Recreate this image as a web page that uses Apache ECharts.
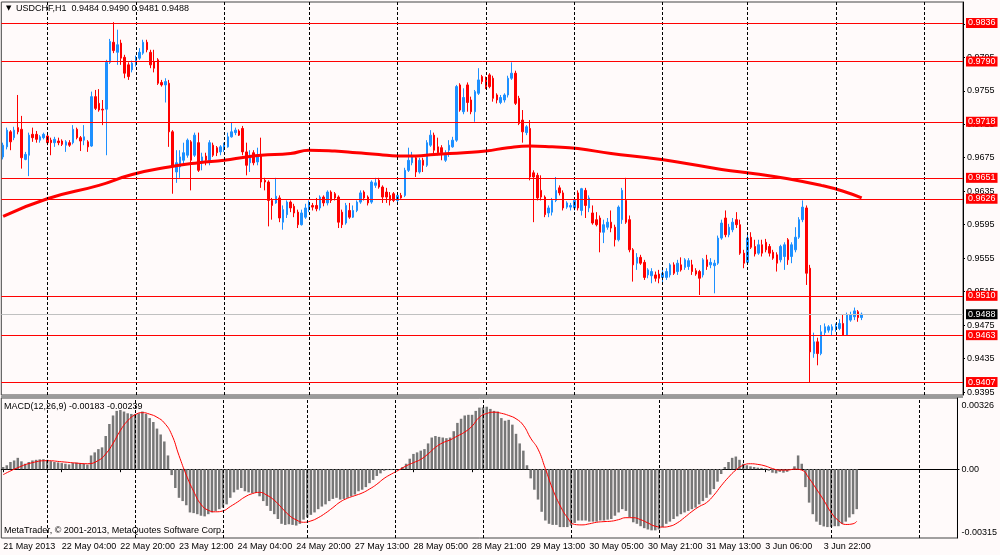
<!DOCTYPE html>
<html>
<head>
<meta charset="utf-8">
<title>USDCHF,H1</title>
<script src="https://cdn.jsdelivr.net/npm/echarts@6/dist/echarts.min.js"></script>
<style>
  html, body { margin:0; padding:0; background:#fffafa; }
  #chart { width:1000px; height:555px; }
</style>
</head>
<body>
<div id="chart"></div>
<script>
// hourly bars, 21 May 2013 12:00 .. 4 Jun 2013 07:00 — [open, high, low, close]
const ohlc = [
  [0.9676,0.9693,0.9673,0.9690],[0.9688,0.9711,0.9685,0.9708],[0.9706,0.9708,0.9684,0.9694],[0.9699,0.9712,0.9696,0.9708],
  [0.9711,0.9750,0.9703,0.9706],[0.9709,0.9725,0.9662,0.9675],[0.9673,0.9682,0.9672,0.9679],[0.9678,0.9705,0.9653,0.9702],
  [0.9703,0.9711,0.9694,0.9699],[0.9703,0.9707,0.9693,0.9697],[0.9696,0.9702,0.9693,0.9700],[0.9699,0.9705,0.9697,0.9703],
  [0.9701,0.9705,0.9690,0.9693],[0.9696,0.9699,0.9678,0.9693],[0.9693,0.9700,0.9688,0.9697],[0.9695,0.9699,0.9690,0.9693],
  [0.9695,0.9697,0.9689,0.9691],[0.9690,0.9696,0.9682,0.9694],[0.9693,0.9696,0.9688,0.9690],[0.9693,0.9714,0.9691,0.9709],
  [0.9709,0.9711,0.9697,0.9699],[0.9699,0.9701,0.9683,0.9695],[0.9696,0.9714,0.9690,0.9700],[0.9694,0.9696,0.9682,0.9688],
  [0.9689,0.9754,0.9688,0.9748],[0.9748,0.9756,0.9732,0.9734],[0.9740,0.9757,0.9730,0.9732],[0.9733,0.9744,0.9714,0.9732],
  [0.9733,0.9792,0.9678,0.9789],[0.9789,0.9817,0.9787,0.9814],[0.9813,0.9837,0.9800,0.9803],[0.9801,0.9828,0.9786,0.9810],
  [0.9812,0.9816,0.9786,0.9794],[0.9795,0.9798,0.9770,0.9776],[0.9786,0.9789,0.9768,0.9772],[0.9780,0.9791,0.9777,0.9788],
  [0.9786,0.9797,0.9784,0.9794],[0.9794,0.9806,0.9792,0.9801],[0.9800,0.9816,0.9798,0.9813],[0.9813,0.9816,0.9801,0.9804],
  [0.9801,0.9804,0.9782,0.9786],[0.9790,0.9804,0.9777,0.9782],[0.9792,0.9794,0.9762,0.9764],[0.9765,0.9768,0.9760,0.9762],
  [0.9762,0.9770,0.9741,0.9766],[0.9764,0.9768,0.9688,0.9706],[0.9706,0.9708,0.9632,0.9666],[0.9658,0.9684,0.9645,0.9669],
  [0.9664,0.9684,0.9651,0.9676],[0.9672,0.9693,0.9666,0.9681],[0.9678,0.9698,0.9675,0.9696],[0.9694,0.9696,0.9636,0.9672],
  [0.9678,0.9705,0.9676,0.9702],[0.9693,0.9705,0.9658,0.9660],[0.9670,0.9681,0.9660,0.9676],[0.9677,0.9681,0.9666,0.9672],
  [0.9670,0.9696,0.9666,0.9693],[0.9690,0.9693,0.9676,0.9678],[0.9687,0.9689,0.9677,0.9681],[0.9682,0.9690,0.9678,0.9688],
  [0.9687,0.9693,0.9682,0.9690],[0.9688,0.9705,0.9687,0.9700],[0.9700,0.9717,0.9699,0.9706],[0.9705,0.9711,0.9702,0.9708],
  [0.9707,0.9709,0.9701,0.9702],[0.9710,0.9713,0.9678,0.9682],[0.9682,0.9693,0.9654,0.9666],[0.9669,0.9684,0.9658,0.9678],
  [0.9681,0.9684,0.9666,0.9669],[0.9670,0.9687,0.9666,0.9678],[0.9678,0.9699,0.9639,0.9646],[0.9648,0.9651,0.9636,0.9646],
  [0.9646,0.9648,0.9593,0.9624],[0.9624,0.9627,0.9601,0.9618],[0.9621,0.9651,0.9620,0.9629],[0.9627,0.9630,0.9598,0.9603],
  [0.9598,0.9618,0.9589,0.9613],[0.9607,0.9624,0.9603,0.9622],[0.9622,0.9624,0.9610,0.9615],[0.9617,0.9620,0.9604,0.9609],
  [0.9610,0.9613,0.9591,0.9595],[0.9595,0.9613,0.9594,0.9609],[0.9604,0.9620,0.9602,0.9615],[0.9613,0.9624,0.9610,0.9621],
  [0.9618,0.9621,0.9612,0.9616],[0.9618,0.9627,0.9611,0.9614],[0.9615,0.9630,0.9612,0.9628],[0.9628,0.9630,0.9617,0.9621],
  [0.9621,0.9636,0.9618,0.9634],[0.9634,0.9636,0.9621,0.9624],[0.9632,0.9634,0.9624,0.9627],[0.9628,0.9630,0.9591,0.9598],
  [0.9610,0.9613,0.9591,0.9595],[0.9597,0.9621,0.9595,0.9618],[0.9612,0.9621,0.9602,0.9604],[0.9604,0.9618,0.9603,0.9612],
  [0.9612,0.9624,0.9610,0.9622],[0.9622,0.9636,0.9620,0.9633],[0.9634,0.9636,0.9624,0.9627],[0.9628,0.9630,0.9618,0.9621],
  [0.9622,0.9648,0.9620,0.9646],[0.9642,0.9651,0.9639,0.9645],[0.9648,0.9651,0.9638,0.9640],[0.9640,0.9642,0.9621,0.9628],
  [0.9634,0.9639,0.9621,0.9628],[0.9630,0.9634,0.9618,0.9624],[0.9632,0.9634,0.9622,0.9624],[0.9624,0.9634,0.9622,0.9630],
  [0.9630,0.9633,0.9626,0.9627],[0.9630,0.9663,0.9628,0.9660],[0.9660,0.9687,0.9658,0.9672],[0.9669,0.9682,0.9666,0.9676],
  [0.9675,0.9678,0.9652,0.9658],[0.9658,0.9675,0.9656,0.9672],[0.9672,0.9675,0.9658,0.9666],[0.9666,0.9696,0.9664,0.9693],
  [0.9690,0.9708,0.9688,0.9702],[0.9702,0.9705,0.9678,0.9684],[0.9688,0.9699,0.9678,0.9681],[0.9687,0.9690,0.9672,0.9681],
  [0.9672,0.9684,0.9670,0.9678],[0.9684,0.9696,0.9676,0.9690],[0.9688,0.9700,0.9687,0.9696],[0.9696,0.9762,0.9694,0.9760],
  [0.9762,0.9764,0.9730,0.9732],[0.9730,0.9758,0.9727,0.9747],[0.9762,0.9765,0.9730,0.9741],[0.9744,0.9748,0.9727,0.9730],
  [0.9730,0.9756,0.9718,0.9754],[0.9752,0.9782,0.9750,0.9768],[0.9772,0.9774,0.9763,0.9766],[0.9768,0.9772,0.9757,0.9760],
  [0.9774,0.9776,0.9758,0.9760],[0.9770,0.9773,0.9742,0.9746],[0.9750,0.9752,0.9740,0.9744],[0.9741,0.9750,0.9739,0.9747],
  [0.9744,0.9752,0.9741,0.9750],[0.9750,0.9773,0.9747,0.9770],[0.9770,0.9789,0.9768,0.9776],[0.9776,0.9779,0.9738,0.9740],
  [0.9746,0.9749,0.9714,0.9716],[0.9720,0.9732,0.9693,0.9706],[0.9705,0.9714,0.9702,0.9712],[0.9710,0.9720,0.9648,0.9652],
  [0.9657,0.9660,0.9598,0.9652],[0.9654,0.9657,0.9624,0.9627],[0.9636,0.9654,0.9624,0.9628],[0.9628,0.9630,0.9604,0.9607],
  [0.9609,0.9618,0.9604,0.9615],[0.9610,0.9627,0.9606,0.9624],[0.9624,0.9652,0.9622,0.9636],[0.9639,0.9642,0.9630,0.9633],
  [0.9633,0.9636,0.9612,0.9615],[0.9616,0.9623,0.9614,0.9621],[0.9616,0.9621,0.9612,0.9618],[0.9615,0.9627,0.9612,0.9624],
  [0.9633,0.9636,0.9612,0.9615],[0.9612,0.9639,0.9606,0.9638],[0.9636,0.9639,0.9603,0.9618],[0.9615,0.9630,0.9610,0.9627],
  [0.9609,0.9618,0.9595,0.9597],[0.9601,0.9610,0.9593,0.9595],[0.9603,0.9606,0.9562,0.9586],[0.9586,0.9601,0.9573,0.9595],
  [0.9592,0.9603,0.9589,0.9598],[0.9598,0.9612,0.9586,0.9591],[0.9592,0.9595,0.9569,0.9577],[0.9577,0.9618,0.9575,0.9616],
  [0.9601,0.9639,0.9596,0.9636],[0.9624,0.9651,0.9596,0.9598],[0.9601,0.9606,0.9562,0.9565],[0.9565,0.9567,0.9527,0.9547],
  [0.9549,0.9561,0.9541,0.9556],[0.9556,0.9559,0.9547,0.9549],[0.9550,0.9553,0.9529,0.9532],[0.9535,0.9543,0.9531,0.9541],
  [0.9534,0.9543,0.9525,0.9539],[0.9535,0.9539,0.9527,0.9531],[0.9536,0.9541,0.9525,0.9531],[0.9532,0.9541,0.9525,0.9537],
  [0.9532,0.9543,0.9529,0.9539],[0.9535,0.9549,0.9532,0.9547],[0.9547,0.9550,0.9535,0.9537],[0.9539,0.9553,0.9535,0.9549],
  [0.9547,0.9556,0.9539,0.9541],[0.9544,0.9555,0.9541,0.9553],[0.9545,0.9555,0.9541,0.9552],[0.9547,0.9553,0.9535,0.9539],
  [0.9540,0.9543,0.9534,0.9536],[0.9539,0.9541,0.9511,0.9531],[0.9535,0.9555,0.9532,0.9553],[0.9553,0.9559,0.9541,0.9545],
  [0.9547,0.9555,0.9543,0.9550],[0.9546,0.9553,0.9513,0.9549],[0.9549,0.9582,0.9547,0.9579],[0.9579,0.9601,0.9577,0.9597],
  [0.9603,0.9612,0.9580,0.9583],[0.9583,0.9596,0.9580,0.9592],[0.9589,0.9603,0.9586,0.9598],[0.9601,0.9610,0.9591,0.9595],
  [0.9595,0.9601,0.9559,0.9561],[0.9561,0.9565,0.9543,0.9549],[0.9550,0.9583,0.9547,0.9579],[0.9580,0.9586,0.9566,0.9568],
  [0.9569,0.9577,0.9557,0.9560],[0.9561,0.9577,0.9559,0.9571],[0.9571,0.9577,0.9557,0.9561],[0.9574,0.9578,0.9562,0.9565],
  [0.9569,0.9572,0.9557,0.9561],[0.9562,0.9565,0.9553,0.9555],[0.9559,0.9562,0.9539,0.9549],[0.9553,0.9571,0.9550,0.9569],
  [0.9557,0.9574,0.9541,0.9571],[0.9577,0.9579,0.9547,0.9553],[0.9557,0.9574,0.9549,0.9571],[0.9565,0.9592,0.9562,0.9580],
  [0.9580,0.9604,0.9578,0.9601],[0.9601,0.9624,0.9598,0.9616],[0.9615,0.9618,0.9523,0.9537],[0.9543,0.9547,0.9407,0.9443],
  [0.9441,0.9466,0.9436,0.9455],[0.9455,0.9460,0.9427,0.9441],[0.9441,0.9475,0.9439,0.9467],[0.9466,0.9477,0.9463,0.9473],
  [0.9469,0.9475,0.9466,0.9473],[0.9469,0.9476,0.9463,0.9473],[0.9470,0.9477,0.9467,0.9474],[0.9471,0.9482,0.9469,0.9477],
  [0.9477,0.9488,0.9462,0.9463],[0.9463,0.9490,0.9462,0.9487],[0.9481,0.9491,0.9479,0.9487],[0.9485,0.9496,0.9481,0.9492],
  [0.9491,0.9493,0.9479,0.9484],[0.9484,0.9490,0.9481,0.9488]
];

// moving average, read at a few bars
const maIdx = [0,12,26,35,45,53,60,66,70,78,83,90,96,102,107,112,117,125,131,137,143,149,156,165,175,183,195,204,213,222,228,233];
const maVal = [0.9605,0.9626,0.9642,0.9655,0.9664,0.9669,0.9672,0.9676,0.9678,0.9680,0.9684,0.9683,0.9681,0.9679,0.9677,0.9677,
               0.9679,0.9681,0.9683,0.9687,0.9689,0.9688,0.9686,0.9680,0.9675,0.9670,0.9661,0.9656,0.9650,0.9642,0.9635,0.9627];

// MACD(12,26,9) main histogram, in units of 1e-5
const macdHist = [
  10,18,33,40,52,36,25,33,40,43,  45,46,43,37,33,31,28,25,22,28,
  30,28,25,21,63,77,92,100,152,207,  246,267,271,264,256,253,253,256,264,253,
  234,216,186,159,127,63,-27,-86,-131,-146,  -165,-198,-201,-206,-213,-216,-206,-198,-191,-183,
  -176,-161,-131,-106,-94,-86,-101,-106,-109,-109,  -124,-146,-168,-191,-206,-228,-250,-255,-252,-255,
  -258,-250,-231,-221,-209,-198,-183,-171,-161,-146,  -136,-131,-139,-136,-131,-124,-116,-101,-94,-82,
  -64,-49,-31,-19,-7,-4,-4,-3,-1,10,  25,48,70,77,85,92,118,145,152,148,
  145,142,145,174,212,231,246,249,249,267,  282,283,286,276,267,264,234,222,226,204,
  162,118,85,18,-42,-94,-139,-195,-235,-250,  -255,-255,-265,-265,-265,-258,-246,-235,-235,-235,
  -240,-240,-240,-235,-235,-231,-228,-213,-198,-183,  -191,-221,-243,-250,-261,-270,-276,-280,-280,-276,
  -265,-250,-240,-228,-216,-206,-198,-191,-183,-176,  -161,-146,-131,-116,-91,-57,-22,10,33,52,
  58,43,25,18,13,10,7,6,3,-7,  -16,-19,-12,-16,-12,-4,13,63,25,-82,
  -153,-206,-240,-255,-262,-265,-265,-261,-261,-250,  -240,-221,-206,-183
];

// signal line, read at a few bars, units of 1e-5
const sigIdx = [0,4,8,12,16,20,23,26,28,30,32,34,36,38,40,42,44,46,48,50,52,54,56,58,60,62,64,66,68,70,72,74,76,78,80,82,84,86,88,90,
  92,94,96,98,100,102,104,106,108,110,112,114,116,118,120,122,124,126,128,130,132,134,136,138,140,142,144,146,148,150,152,154,156,158,160,
  162,164,166,168,170,172,174,176,178,180,182,184,186,188,190,192,194,196,198,200,202,204,206,208,210,212,214,216,218,220,222,224,226,228,
  230,232,233];
const sigVal = [-25,7,30,39,34,28,25,40,70,118,177,222,249,259,252,238,212,159,63,-27,-101,-161,-188,-195,-191,-171,-150,-127,-112,-106,
  -119,-142,-176,-210,-232,-243,-237,-222,-201,-176,-150,-133,-121,-109,-91,-69,-42,-22,-4,15,30,45,70,100,121,134,152,170,197,238,
  255,261,256,246,231,201,142,92,3,-91,-165,-221,-253,-255,-250,-243,-240,-238,-231,-222,-222,-231,-246,-261,-265,-261,-246,-221,-194,-171,
  -153,-119,-76,-37,-4,18,25,22,15,3,-4,-4,0,-4,-42,-91,-142,-198,-235,-253,-250,-239];

const levels = [0.9836, 0.9790, 0.9718, 0.9651, 0.9626, 0.9510, 0.9463, 0.9407];
const bidPrice = 0.9488;
const priceTicks = [0.9395,0.9435,0.9475,0.9515,0.9555,0.9595,0.9635,0.9675,0.9715,0.9755,0.9795,0.9835];
const macdTicks = [0.00326, 0, -0.00315];
const dayStartIdx = [12,36,60,83,107,131,155,179,202,226,250];
const tickIdx = [0,16,32,48,64,80,96,112,128,144,160,176,192,208,224];
const tickText = ['21 May 2013','22 May 04:00','22 May 20:00','23 May 12:00','24 May 04:00','24 May 20:00','27 May 13:00',
  '28 May 05:00','28 May 21:00','29 May 13:00','30 May 05:00','30 May 21:00','31 May 13:00','3 Jun 06:00','3 Jun 22:00'];
const slots = 261;

const font = 'Liberation Sans, Arial, sans-serif';
const cats = Array.from({ length: slots }, (_, i) => String(i));
const candleData = ohlc.map(([o, h, l, c]) => [o, c, l, h]);
const maData = maIdx.map((i, k) => [i, maVal[k]]);
const histData = macdHist.map(v => v * 1e-5);
const sigData = sigIdx.map((i, k) => [i, sigVal[k] * 1e-5]);

const dayLines = dayStartIdx.map(i => ({ xAxis: i }));
const vLineStyle = { color: '#000', width: 1, type: [3, 2] };
const boxLabel = (bg) => ({
  show: true, position: 'end', distance: 3, color: '#fff', backgroundColor: bg,
  fontSize: 9, fontFamily: font, lineHeight: 9, padding: [1, 2, 0, 2]
});

const chart = echarts.init(document.getElementById('chart'));
chart.setOption({
  animation: false,
  backgroundColor: '#fffafa',
  grid: [
    { left: 1.3, right: 37, top: 2, height: 393, show: true, borderColor: '#444', borderWidth: 1, backgroundColor: 'transparent' },
    { left: 1.3, right: 37, top: 398, height: 140, show: true, borderColor: '#444', borderWidth: 1, backgroundColor: 'transparent' }
  ],
  xAxis: [
    { type: 'category', gridIndex: 0, data: cats, axisLine: { show: false }, axisTick: { show: false },
      axisLabel: { show: false }, splitLine: { show: false } },
    { type: 'category', gridIndex: 1, data: cats,
      axisLine: { lineStyle: { color: '#000' } },
      axisTick: { show: true, alignWithLabel: true, length: 3, interval: i => tickIdx.includes(i), lineStyle: { color: '#000' } },
      axisLabel: {
        interval: i => tickIdx.includes(i),
        formatter: (v, i) => { const k = tickIdx.indexOf(i); return k >= 0 ? tickText[k] : ''; },
        align: 'left', color: '#000', fontSize: 9, fontFamily: font, margin: 4
      },
      splitLine: { show: false } }
  ],
  yAxis: [
    { type: 'value', gridIndex: 0, position: 'right', min: 0.93915, max: 0.98611, scale: true,
      axisLine: { show: true, lineStyle: { color: '#000' } },
      axisTick: { show: true, length: 2, customValues: priceTicks, lineStyle: { color: '#000' } },
      axisLabel: { customValues: priceTicks, formatter: v => v.toFixed(4), color: '#000', fontSize: 9, fontFamily: font, margin: 4 },
      splitLine: { show: false } },
    { type: 'value', gridIndex: 1, position: 'right', min: -0.00315, max: 0.00326,
      axisLine: { show: true, lineStyle: { color: '#000' } },
      axisTick: { show: true, length: 2, customValues: [0], lineStyle: { color: '#000' } },
      axisLabel: {
        customValues: macdTicks, color: '#000', fontSize: 9, fontFamily: font, margin: 4,
        formatter: v => v > 0 ? '{t|' + v.toFixed(5) + '}' : v < 0 ? '{b|' + v.toFixed(5) + '}' : '0.00',
        rich: {
          t: { padding: [16, 0, 0, 0], color: '#000', fontSize: 9, fontFamily: font },
          b: { padding: [0, 0, 10, 0], color: '#000', fontSize: 9, fontFamily: font }
        }
      },
      splitLine: { show: false } }
  ],
  series: [
    {
      type: 'candlestick', name: 'USDCHF,H1', xAxisIndex: 0, yAxisIndex: 0, data: candleData, barWidth: 2,
      itemStyle: { color: '#1e90ff', color0: '#ff0000', borderColor: '#1e90ff', borderColor0: '#ff0000', borderWidth: 1 },
      markLine: { silent: true, symbol: ['none', 'none'], label: { show: false }, lineStyle: vLineStyle, data: dayLines }
    },
    {
      type: 'line', name: 'MA', xAxisIndex: 0, yAxisIndex: 0, data: maData, smooth: true, symbol: 'none',
      lineStyle: { color: '#ff0000', width: 3 }, z: 3,
      markLine: {
        silent: true, symbol: ['none', 'none'], precision: 6,
        lineStyle: { color: '#ff0000', width: 1, type: 'solid', opacity: 1 },
        data: levels.map(v => ({ yAxis: v, label: Object.assign(boxLabel('#ff0000'), { formatter: v.toFixed(4) }) }))
          .concat([{ yAxis: bidPrice, lineStyle: { color: '#c0c0c0', width: 1, type: 'solid' },
                     label: Object.assign(boxLabel('#000'), { formatter: bidPrice.toFixed(4) }) }])
      }
    },
    {
      type: 'bar', name: 'MACD', xAxisIndex: 1, yAxisIndex: 1, data: histData, barWidth: 2.5,
      itemStyle: { color: '#777777' },
      markLine: { silent: true, symbol: ['none', 'none'], label: { show: false }, lineStyle: vLineStyle, data: dayLines }
    },
    {
      type: 'line', name: 'Signal', xAxisIndex: 1, yAxisIndex: 1, data: sigData, smooth: true, symbol: 'none',
      lineStyle: { color: '#ff0000', width: 1 }, z: 3
    }
  ],
  graphic: [
    { type: 'rect', left: 1, top: 395.5, shape: { width: 962, height: 2.5 }, style: { fill: '#9a9a9a' }, silent: true },
    { type: 'text', left: 6, top: 5, style: { text: '▼', font: '7px DejaVu Sans', fill: '#000' } },
    { type: 'text', left: 16, top: 4, style: { text: 'USDCHF,H1  0.9484 0.9490 0.9481 0.9488', font: '9px ' + font, fill: '#000' } },
    { type: 'text', left: 4, top: 402, style: { text: 'MACD(12,26,9) -0.00183 -0.00239', font: '9px ' + font, fill: '#000' } },
    { type: 'text', left: 4, top: 526, style: { text: 'MetaTrader, \u00a9 2001-2013, MetaQuotes Software Corp.', font: '9px ' + font, fill: '#000' } }
  ]
});
</script>
</body>
</html>
